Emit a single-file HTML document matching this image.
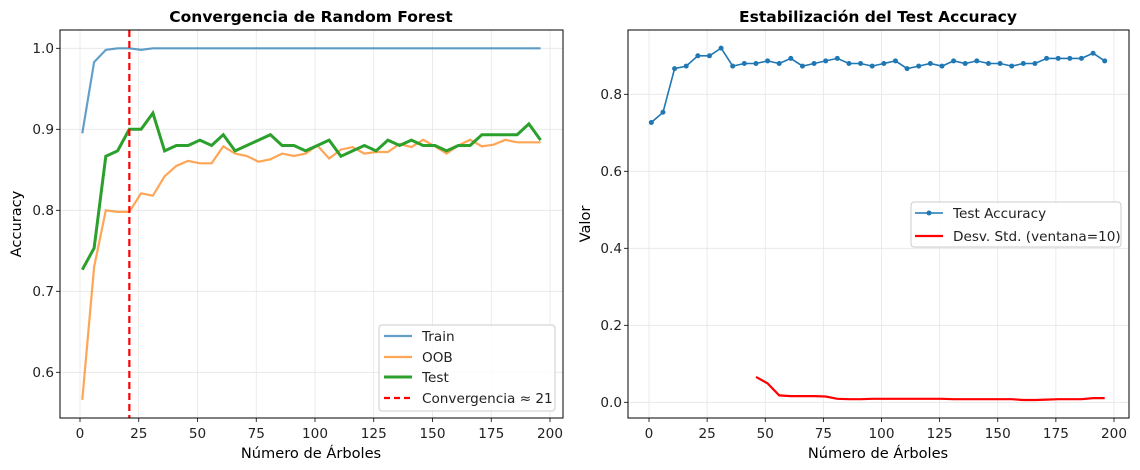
<!DOCTYPE html>
<html><head><meta charset="utf-8"><style>
body{margin:0;background:#fff}
svg{display:block;font-family:"DejaVu Sans","Liberation Sans",sans-serif}
</style></head><body>
<svg id="s" width="1140" height="470" viewBox="0 0 1140 470" xmlns="http://www.w3.org/2000/svg">
<rect width="1140" height="470" fill="#fff"/>
<g id="grid" stroke="#e6e6e6" stroke-width="0.8"></g>
<g id="series"></g>
<rect x="60" y="30" width="503" height="388" fill="none" stroke="#000" stroke-width="1"/>
<rect x="628" y="30" width="501" height="388" fill="none" stroke="#000" stroke-width="1"/>
<g id="ticks" stroke="#000" stroke-width="0.8"></g>
<g font-size="13.6" fill="#222" text-anchor="middle">
<text x="80" y="438">0</text><text x="138.75" y="438">25</text><text x="197.5" y="438">50</text><text x="256.25" y="438">75</text><text x="315" y="438">100</text><text x="373.75" y="438">125</text><text x="432.5" y="438">150</text><text x="491.25" y="438">175</text><text x="550" y="438">200</text>
<text x="649" y="438">0</text><text x="707.1" y="438">25</text><text x="765.25" y="438">50</text><text x="823.4" y="438">75</text><text x="881.5" y="438">100</text><text x="939.6" y="438">125</text><text x="997.75" y="438">150</text><text x="1055.9" y="438">175</text><text x="1114" y="438">200</text>
</g>
<g font-size="13.6" fill="#222" text-anchor="end">
<text x="54" y="53">1.0</text><text x="54" y="134">0.9</text><text x="54" y="215">0.8</text><text x="54" y="296">0.7</text><text x="54" y="377">0.6</text>
<text x="622" y="99">0.8</text><text x="622" y="176">0.6</text><text x="622" y="253">0.4</text><text x="622" y="330">0.2</text><text x="622" y="407">0.0</text>
</g>
<g font-size="14.6" fill="#000" text-anchor="middle">
<text x="311" y="458">Número de Árboles</text>
<text x="878" y="458">Número de Árboles</text>
<text transform="translate(21,224) rotate(-90)">Accuracy</text>
<text transform="translate(590,224) rotate(-90)">Valor</text>
</g>
<g font-size="15.5" font-weight="bold" text-anchor="middle" fill="#000">
<text x="311" y="22">Convergencia de Random Forest</text>
<text x="878" y="22">Estabilización del Test Accuracy</text>
</g>
<rect x="379" y="325" width="176" height="86" rx="3" fill="#fff" fill-opacity="0.85" stroke="#ccc"/>
<g stroke-width="2.2" fill="none">
<line x1="384" y1="336" x2="412" y2="336" stroke="#1f77b4" stroke-opacity="0.7"/>
<line x1="384" y1="357" x2="412" y2="357" stroke="#ff7f0e" stroke-opacity="0.7"/>
<line x1="384" y1="377" x2="412" y2="377" stroke="#2ca02c" stroke-width="3"/>
<line x1="384" y1="398" x2="412" y2="398" stroke="#f00" stroke-dasharray="6,4"/>
</g>
<g font-size="13.6" fill="#222">
<text x="422" y="341">Train</text><text x="422" y="362">OOB</text><text x="422" y="382">Test</text><text x="422" y="403">Convergencia ≈ 21</text>
</g>
<rect x="911" y="202" width="210" height="45" rx="3" fill="#fff" fill-opacity="0.85" stroke="#ccc"/>
<line x1="915" y1="213" x2="943" y2="213" stroke="#1f77b4" stroke-width="1.6"/>
<circle cx="929" cy="213" r="2.5" fill="#1f77b4"/>
<line x1="915" y1="236" x2="943" y2="236" stroke="#f00" stroke-width="2.2"/>
<g font-size="13.6" fill="#222">
<text x="953" y="218">Test Accuracy</text><text x="953" y="241">Desv. Std. (ventana=10)</text>
</g>
</svg>
<script>
var NS="http://www.w3.org/2000/svg";
function el(p,t,a){var e=document.createElementNS(NS,t);for(var k in a)e.setAttribute(k,a[k]);p.appendChild(e);return e;}
var xs=[];for(var i=0;i<40;i++)xs.push(1+5*i);
var test=[109,113,130,131,135,135,138,131,132,132,133,132,134,131,132,133,134,132,132,131,132,133,130,131,132,131,133,132,133,132,132,131,132,132,134,134,134,134,136,133].map(function(v){return v/150});
var oob=[0.566,0.73,0.80,0.798,0.798,0.821,0.818,0.842,0.855,0.861,0.858,0.858,0.879,0.870,0.867,0.860,0.863,0.870,0.867,0.870,0.880,0.864,0.875,0.878,0.870,0.872,0.872,0.882,0.878,0.887,0.879,0.870,0.880,0.887,0.879,0.881,0.887,0.884,0.884,0.884];
var train=[0.895,0.983,0.998,1,1,0.998];while(train.length<40)train.push(1);
var std={46:0.066,51:0.049,56:0.018,61:0.016,66:0.016,71:0.016,76:0.015,81:0.009,86:0.008,91:0.008,96:0.009,101:0.009,106:0.009,111:0.009,116:0.009,121:0.009,126:0.009,131:0.008,136:0.008,141:0.008,146:0.008,151:0.008,156:0.008,161:0.006,166:0.006,171:0.007,176:0.008,181:0.008,186:0.008,191:0.011,196:0.011};
function lx(x){return 80+x*2.35}function ly(v){return 48.3+(1-v)*810}
function rx(x){return 649+x*2.325}function ry(v){return 402.3-v*385}
var g=document.getElementById('grid'),s=document.getElementById('series'),t=document.getElementById('ticks');
for(var k=0;k<=8;k++){var a=lx(25*k),b=rx(25*k);el(g,'line',{x1:a,x2:a,y1:30,y2:418});el(g,'line',{x1:b,x2:b,y1:30,y2:418});
el(t,'line',{x1:a,x2:a,y1:418,y2:422});el(t,'line',{x1:b,x2:b,y1:418,y2:422});}
[0.6,0.7,0.8,0.9,1.0].forEach(function(v){var y=ly(v);el(g,'line',{x1:60,x2:563,y1:y,y2:y});el(t,'line',{x1:56,x2:60,y1:y,y2:y});});
[0,0.2,0.4,0.6,0.8].forEach(function(v){var y=ry(v);el(g,'line',{x1:628,x2:1129,y1:y,y2:y});el(t,'line',{x1:624,x2:628,y1:y,y2:y});});
function pts(arr,fx,fy){return arr.map(function(v,i){return fx(xs[i]).toFixed(1)+','+fy(v).toFixed(1)}).join(' ');}
el(s,'polyline',{points:pts(train,lx,ly),fill:'none',stroke:'#1f77b4','stroke-opacity':0.7,'stroke-width':2.2});
el(s,'polyline',{points:pts(oob,lx,ly),fill:'none',stroke:'#ff7f0e','stroke-opacity':0.7,'stroke-width':2.2});
el(s,'polyline',{points:pts(test,lx,ly),fill:'none',stroke:'#2ca02c','stroke-width':3});
el(s,'line',{x1:lx(21),x2:lx(21),y1:30,y2:418,stroke:'#f00','stroke-width':2.2,'stroke-dasharray':'7,4'});
el(s,'polyline',{points:pts(test,rx,ry),fill:'none',stroke:'#1f77b4','stroke-width':1.6});
test.forEach(function(v,i){el(s,'circle',{cx:rx(xs[i]),cy:ry(v),r:2.5,fill:'#1f77b4'});});
var sp=[];for(var x in std)sp.push(rx(+x).toFixed(1)+','+ry(std[x]).toFixed(1));
el(s,'polyline',{points:sp.join(' '),fill:'none',stroke:'#f00','stroke-width':2.2});
</script>
</body></html>
